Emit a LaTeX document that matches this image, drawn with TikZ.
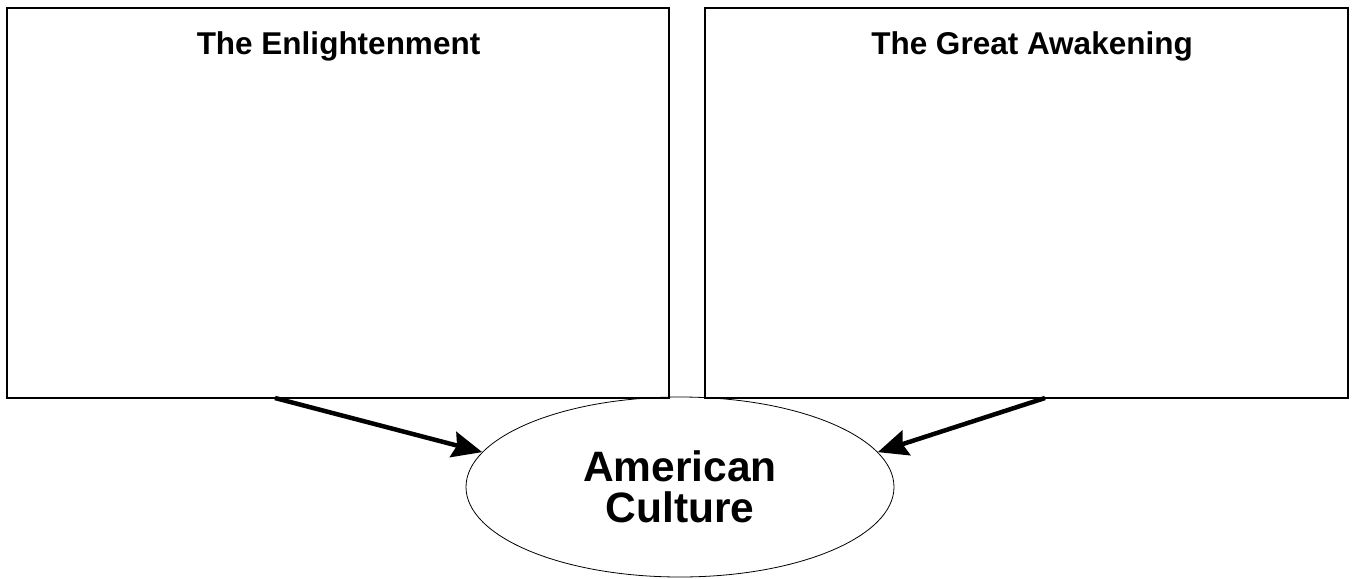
\documentclass[tikz,border=0pt]{standalone}
\usepackage{fontspec}
\setmainfont{Liberation Sans}
\usetikzlibrary{shapes.geometric,arrows.meta}

\begin{document}
\begin{tikzpicture}[x=1pt,y=-1pt]
        \useasboundingbox (0,0) rectangle (1356,578);
        \tikzset{topicbox/.style={draw, line width=2pt, minimum width=662pt, minimum height=390pt, inner sep=0pt},
                 topictitle/.style={anchor=base, inner sep=0pt, font=\bfseries\fontsize{31.5}{36}\selectfont},
                 influence/.style={-{Stealth[length=30pt,width=26pt,inset=4pt]}, line width=4.5pt}};

        % boxes
        \node[topicbox] (enlight) at (338,203) {};
        \node[topicbox, minimum width=643pt] (awaken) at (1026.5,203) {};

        % titles
        \node[topictitle] (enlighttitle) at (338.5,55) {The Enlightenment};
        \node[topictitle] (awakentitle) at (1032,55) {The Great Awakening};

        % culture
        \node[draw, ellipse, line width=0.8pt, minimum width=428pt, minimum height=180pt, inner sep=0pt,
              align=center, font=\bfseries\fontsize{42.5}{40.5}\selectfont] (culture) at (680,487) {American\\Culture};

        % arrows
        \coordinate (enlightout) at (275,398);
        \coordinate (awakenout) at (1045,398);
        \draw[influence] (enlightout) -- (culture.170);
        \draw[influence] (awakenout) -- (culture.10);
    \end{tikzpicture}
\end{document}
